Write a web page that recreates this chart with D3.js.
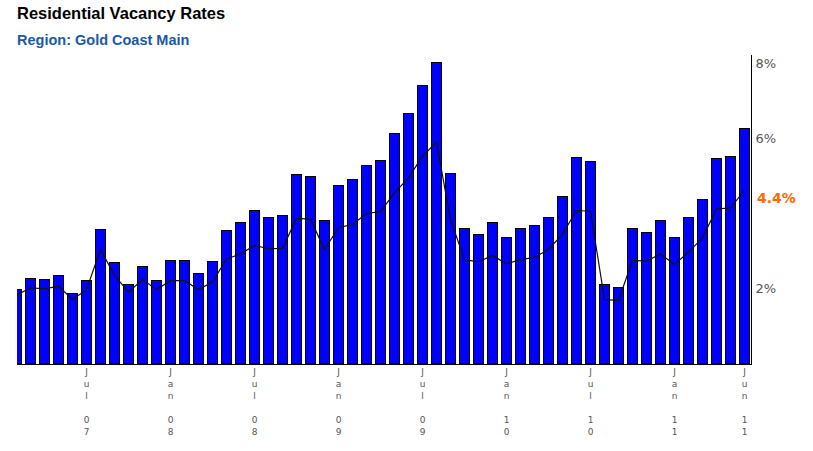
<!DOCTYPE html>
<html><head><meta charset="utf-8">
<script src="https://cdn.jsdelivr.net/npm/d3@7/dist/d3.min.js"></script>
<style>body{margin:0;background:#fff}svg{display:block}</style>
</head><body><svg id="c" width="813" height="451"></svg>
<script>
const title = "Residential Vacancy Rates";
const subtitle = "Region: Gold Coast Main";
const months = [
  "2007-02","2007-03","2007-04","2007-05","2007-06","2007-07","2007-08","2007-09","2007-10","2007-11","2007-12",
  "2008-01","2008-02","2008-03","2008-04","2008-05","2008-06","2008-07","2008-08","2008-09","2008-10","2008-11","2008-12",
  "2009-01","2009-02","2009-03","2009-04","2009-05","2009-06","2009-07","2009-08","2009-09","2009-10","2009-11","2009-12",
  "2010-01","2010-02","2010-03","2010-04","2010-05","2010-06","2010-07","2010-08","2010-09","2010-10","2010-11","2010-12",
  "2011-01","2011-02","2011-03","2011-04","2011-05","2011-06"];
const vacancy = [1.97,2.28,2.24,2.36,1.87,2.21,3.56,2.69,2.11,2.59,
  2.21,2.75,2.75,2.39,2.71,3.55,3.76,4.08,3.89,3.95,
  5.04,4.99,3.81,4.75,4.91,5.28,5.41,6.13,6.67,7.41,
  8.03,5.07,3.60,3.44,3.76,3.36,3.60,3.68,3.89,4.45,
  5.49,5.39,2.12,2.03,3.60,3.49,3.81,3.36,3.89,4.37,
  5.47,5.52,6.27];
const trend = [1.82,2.02,1.99,2.06,1.71,1.97,3.04,2.35,1.90,2.24,
  1.97,2.21,2.21,1.97,2.17,2.79,2.92,3.15,3.06,3.07,
  3.87,3.85,3.04,3.62,3.71,4.00,4.05,4.55,4.95,5.53,
  5.90,3.84,2.77,2.71,2.88,2.66,2.77,2.83,3.04,3.45,
  4.08,4.06,1.71,1.68,2.75,2.73,2.92,2.64,2.97,3.35,
  4.12,4.15,4.62];
const labelMonths = ["2007-07","2008-01","2008-07","2009-01","2009-07","2010-01","2010-07","2011-01","2011-06"];
const labelTexts = ["Jul 07","Jan 08","Jul 08","Jan 09","Jul 09","Jan 10","Jul 10","Jan 11","Jun 11"];
const yTicks = [2, 6, 8];
const currentRate = 4.4;

const svg = d3.select("#c");
const x = d3.scaleBand().domain(months).range([9.5, 751.5])
  .paddingInner(3/14).paddingOuter(1.5/14);
const y = d3.scaleLinear().domain([0, 8]).range([363.5, 63.5]);

svg.append("defs").append("clipPath").attr("id","plot")
  .append("rect").attr("x",17).attr("y",0).attr("width",734.5).attr("height",366);

const plot = svg.append("g").attr("clip-path","url(#plot)");

plot.selectAll("rect.bar").data(vacancy).join("rect").attr("class","bar")
  .attr("x",(d,i)=>x(months[i])+0.5)
  .attr("width",x.bandwidth()-1)
  .attr("y",d=>Math.round(y(d)-0.5)+0.5)
  .attr("height",d=>y(0)-(Math.round(y(d)-0.5)+0.5))
  .attr("fill","#0000ff").attr("stroke","#000").attr("stroke-width",1);

const line = d3.line().x((d,i)=>x(months[i])+x.bandwidth()/2).y(d=>y(d));
plot.append("path").datum(trend).attr("d",line)
  .attr("fill","none").attr("stroke","#111").attr("stroke-width",1.2);

// bottom axis
const xa = svg.append("g").attr("transform","translate(0,364)")
  .call(d3.axisBottom(x).tickValues(labelMonths).tickSize(0).tickFormat((d,i)=>labelTexts[i]));
xa.select(".domain").remove();
xa.selectAll("text").each(function(d,i){
  const t = d3.select(this);
  const s = labelTexts[i];
  t.text(null).attr("y",null).attr("dy",null)
    .attr("font-family","DejaVu Sans, Verdana, sans-serif").attr("font-size",9).attr("fill","#555");
  s.split("").forEach((ch,k)=>{
    t.append("tspan").attr("x",0).attr("y",11+k*12).text(ch===" "?"\u00a0":ch);
  });
});
svg.append("line").attr("x1",17).attr("x2",752).attr("y1",364.5).attr("y2",364.5)
  .attr("stroke","#000").attr("stroke-width",1);

// right axis
const ya = svg.append("g").attr("transform","translate(751.5,0)")
  .call(d3.axisRight(y).tickValues(yTicks).tickSize(0).tickPadding(4).tickFormat(d=>d+"%"));
ya.select(".domain").remove();
ya.selectAll("text").attr("font-family","DejaVu Sans, Verdana, sans-serif").attr("font-size",13).attr("fill","#555");
svg.append("line").attr("x1",751.5).attr("x2",751.5).attr("y1",55).attr("y2",365)
  .attr("stroke","#000").attr("stroke-width",1);

svg.append("text").attr("x",757).attr("y",y(currentRate)).attr("dy","0.35em")
  .attr("font-family","DejaVu Sans, Verdana, sans-serif").attr("font-size",14).attr("font-weight","bold")
  .attr("fill","#ff6600").text(currentRate+"%");

svg.append("text").attr("x",17).attr("y",18.5)
  .attr("font-family","Liberation Sans, Arial, sans-serif").attr("font-size",16.5).attr("font-weight","bold")
  .attr("fill","#000").text(title);
svg.append("text").attr("x",17).attr("y",44.5)
  .attr("font-family","Liberation Sans, Arial, sans-serif").attr("font-size",14.5).attr("font-weight","bold")
  .attr("fill","#1a5aa0").text(subtitle);
</script></body></html>
